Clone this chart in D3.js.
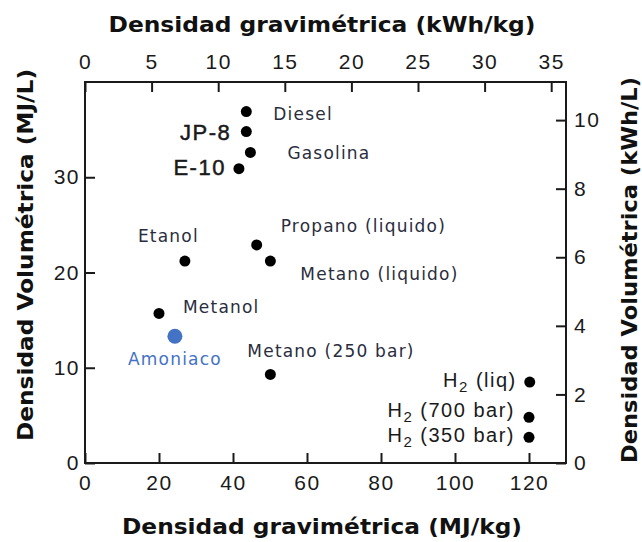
<!DOCTYPE html>
<html>
<head>
<meta charset="utf-8">
<script src="https://cdn.jsdelivr.net/npm/d3@7"></script>
<style>
  body { margin: 0; background: #fff; }
  svg { display: block; }
</style>
</head>
<body>
<figure id="chart" style="margin:0"></figure>
<script>
// fuels and their energy densities (MJ/kg, MJ/L)
const fuels = ["Diesel", "JP-8", "Gasolina", "E-10", "Etanol", "Propano (liquido)",
  "Metano (liquido)", "Metanol", "Amoniaco", "Metano (250 bar)", "H2 (liq)", "H2 (700 bar)", "H2 (350 bar)"];
const gravMJkg = [43.6, 43.6, 44.7, 41.6, 27.0, 46.4, 50.1, 20.0, 24.3, 50.1, 120.2, 120.0, 120.0];
const volMJL = [36.9, 34.8, 32.6, 30.9, 21.2, 22.9, 21.2, 15.7, 13.3, 9.3, 8.5, 4.8, 2.7];

const bottomTicks = [0, 20, 40, 60, 80, 100, 120];
const topTicks = [0, 5, 10, 15, 20, 25, 30, 35];
const leftTicks = [0, 10, 20, 30];
const rightTicks = [0, 2, 4, 6, 8, 10];

// label placement relative to each dot: [dx, dy, anchor, style]
const labelPos = [
  [27, 8, "start", "m"], [-15, 8, "end", "a"], [37, 7, "start", "m"], [-13, 6, "end", "a"],
  [-47, -19, "start", "m"], [24, -13, "start", "m"], [30, 19, "start", "m"], [24, 0, "start", "m"],
  [0, 29, "middle", "b"], [-23, -17, "start", "m"], [-13, 5, "end", "h"], [-14, 0, "end", "h"], [-14, 5, "end", "h"]
];

const W = 642, H = 542;
const mLeft = 85, mRight = 566, mTop = 82, mBottom = 463;

const svg = d3.select("#chart").append("svg")
  .attr("width", W).attr("height", H);

const x = d3.scaleLinear().domain([0, 130]).range([mLeft, mRight]);
const xTop = d3.scaleLinear().domain([0, 130 / 3.6]).range([mLeft, mRight]);
const y = d3.scaleLinear().domain([0, 40]).range([mBottom, mTop]);
const yRight = d3.scaleLinear().domain([0, 40 / 3.6]).range([mBottom, mTop]);

const tickFont = "'Liberation Sans', Arial, sans-serif";

function styleAxis(g) {
  g.select(".domain").remove();
  g.selectAll(".tick line").attr("stroke", "#1a1a1a").attr("stroke-width", 2);
  g.selectAll(".tick text").attr("fill", "#1a1a1a")
    .style("font-family", tickFont).style("font-size", "21px").style("letter-spacing", "1.5px");
}

svg.append("g").attr("transform", "translate(0," + mBottom + ")")
  .call(d3.axisBottom(x).tickValues(bottomTicks).tickSize(-10).tickPadding(12))
  .call(styleAxis);
svg.append("g").attr("transform", "translate(0," + mTop + ")")
  .call(d3.axisTop(xTop).tickValues(topTicks).tickSize(-10).tickPadding(13))
  .call(styleAxis);
svg.append("g").attr("transform", "translate(" + mLeft + ",0)")
  .call(d3.axisLeft(y).tickValues(leftTicks).tickSize(-10).tickPadding(5))
  .call(styleAxis);
svg.append("g").attr("transform", "translate(" + mRight + ",0)")
  .call(d3.axisRight(yRight).tickValues(rightTicks).tickSize(-10).tickPadding(8))
  .call(styleAxis);

// frame
svg.append("rect")
  .attr("x", mLeft).attr("y", mTop)
  .attr("width", mRight - mLeft).attr("height", mBottom - mTop)
  .attr("fill", "none").attr("stroke", "#1a1a1a").attr("stroke-width", 2);

// axis titles
const titleFont = "'DejaVu Sans', sans-serif";
function title(sel, len) {
  sel.attr("text-anchor", "middle")
    .style("font-family", titleFont).style("font-weight", "bold").style("font-size", "21px")
    .attr("textLength", len).attr("lengthAdjust", "spacingAndGlyphs").attr("fill", "#111");
}
svg.append("text").attr("x", 322).attr("y", 32)
  .call(title, 427).text("Densidad gravimétrica (kWh/kg)");
svg.append("text").attr("x", 322).attr("y", 534)
  .call(title, 400).text("Densidad gravimétrica (MJ/kg)");
svg.append("text").attr("transform", "translate(33,255) rotate(-90)")
  .call(title, 372).text("Densidad Volumétrica (MJ/L)");
svg.append("text").attr("transform", "translate(637,270) rotate(-90)")
  .call(title, 386).text("Densidad Volumétrica (kWh/L)");

// points
const rows = fuels.map((f, i) => ({ name: f, g: gravMJkg[i], v: volMJL[i], lp: labelPos[i] }));

svg.selectAll(".dot").data(rows).enter().append("circle")
  .attr("cx", d => x(d.g)).attr("cy", d => y(d.v))
  .attr("r", d => d.name === "Amoniaco" ? 7.5 : 5.5)
  .attr("fill", d => d.name === "Amoniaco" ? "#4472c4" : "#000");

// labels
const labels = svg.selectAll(".lbl").data(rows).enter().append("text")
  .attr("x", d => x(d.g) + d.lp[0]).attr("y", d => y(d.v) + d.lp[1])
  .attr("text-anchor", d => d.lp[2])
  .style("font-family", d => d.lp[3] === "m" || d.lp[3] === "b" ? "'DejaVu Sans', sans-serif" : tickFont)
  .style("font-size", d => d.lp[3] === "a" ? "22px" : d.lp[3] === "h" ? "20px" : "17px")
  .style("letter-spacing", d => d.lp[3] === "a" ? "1.5px" : d.lp[3] === "h" ? "1.5px" : "1.2px")
  .attr("stroke", d => d.lp[3] === "a" ? "#1a1a1a" : null)
  .attr("stroke-width", d => d.lp[3] === "a" ? 0.5 : null)
  .attr("fill", d => d.lp[3] === "b" ? "#4472c4" : d.lp[3] === "m" ? "#2a2d3e" : "#1a1a1a");

labels.each(function(d) {
  const t = d3.select(this);
  if (d.name.startsWith("H2")) {
    t.append("tspan").text("H");
    t.append("tspan").attr("dy", 5).style("font-size", "15px").text("2");
    t.append("tspan").attr("dy", -5).text(d.name.slice(2));
  } else {
    t.text(d.name);
  }
});
</script>
</body>
</html>
